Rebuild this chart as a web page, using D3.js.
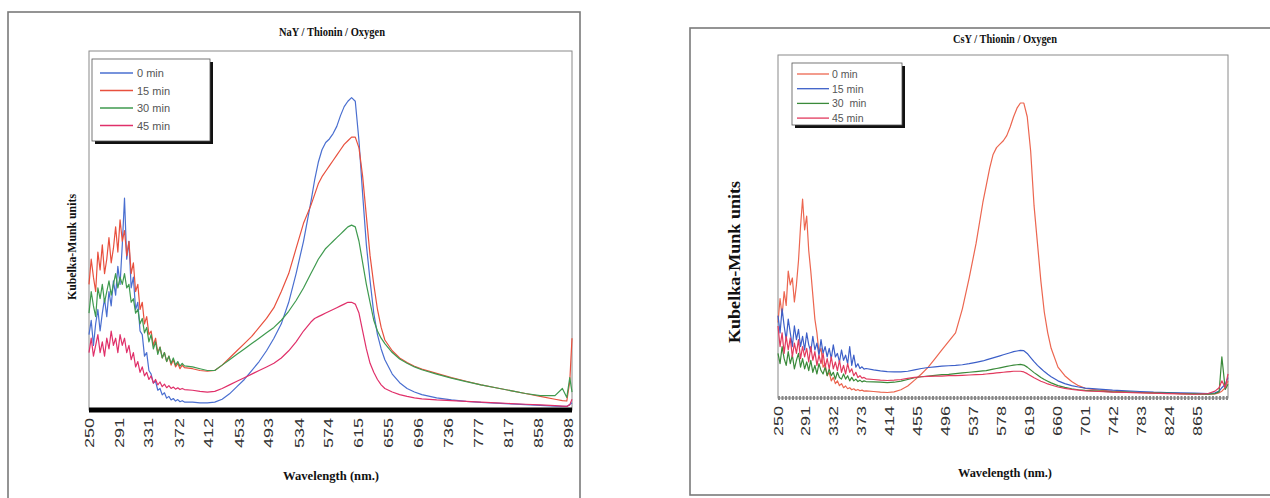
<!DOCTYPE html>
<html>
<head>
<meta charset="utf-8">
<script src="https://cdn.jsdelivr.net/npm/d3@7"></script>
<style>
  body { margin: 0; background: #fff; }
</style>
</head>
<body>
<script>
// wavelength grid (nm) shared by the series of each panel
const waveUV = [250, 253, 256, 259, 262, 265, 268, 271, 274, 277, 280,
    283, 286, 289, 292, 295, 298, 301, 304, 307, 310, 313,
    316, 319, 322, 325, 328, 331, 334, 337, 340, 343, 346,
    349, 352, 355, 358, 361, 364, 367, 370, 373, 376, 379];
const waveMid = [390, 400, 410, 420, 430, 440, 450, 460, 470, 480, 490, 500, 510, 520, 530, 540, 550,
    555, 560, 565, 570, 575, 580, 585, 590, 595, 600, 605, 610, 615, 620, 625, 630, 635, 640, 645, 650];
const waveTailL = [660, 670, 680, 690, 700, 720, 740, 760, 780, 800, 820, 840, 860, 880, 890, 896, 900, 903];
const waveTailR = [660, 670, 680, 690, 700, 720, 740, 760, 780, 800, 820, 840, 860, 880, 890, 896, 900, 905, 909];

const ticksL = [250, 291, 331, 372, 412, 453, 493, 534, 574, 615, 655, 696, 736, 777, 817, 858, 898];
const ticksR = [250, 291, 332, 373, 414, 455, 496, 537, 578, 619, 660, 701, 742, 783, 824, 865];

const namesL = ["0 min", "15 min", "30 min", "45 min"];
const namesR = ["0 min", "15 min", "30  min", "45 min"];

// NaY / Thionin / Oxygen  (Kubelka-Munk, % of plot height)
const naY0 = [21, 25, 18, 24, 28, 22, 27, 31, 26, 33, 29,
    36, 32, 40, 35, 46, 59, 42, 47, 34, 37, 28,
    30, 22, 21, 15, 16, 11, 10, 7.5, 8, 5.5, 6,
    4.2, 4.8, 3.3, 3.8, 2.8, 3.2, 2.5, 2.9, 2.3, 2.6, 2.2,
    2.2, 2.0, 2.0, 2.2, 3, 4.5, 6.5, 8.5, 11, 13.5, 16.5, 20, 24, 30, 38, 47, 58,
    64, 69, 72.5, 74.5, 75.5, 77, 79, 82, 84.5, 86, 87, 86, 75, 60, 46, 36, 27, 21, 17, 14,
    10, 7.6, 6, 5, 4.3, 3.4, 2.8, 2.4, 2.1, 1.9, 1.7, 1.5, 1.3, 1.1, 1.0, 1.0, 1.5, 2];
const naY15 = [35, 42, 37, 33, 44, 39, 46, 38, 42, 48, 41,
    45, 51, 44, 53, 47, 50, 43, 47, 38, 41, 33,
    35, 28, 30, 24, 26, 21, 22, 18, 20, 16, 17.5,
    14.5, 16, 13.5, 15, 12.5, 14, 12, 13, 11.5, 12.5, 11.8,
    11.5, 11, 10.8, 11, 12.5, 14.5, 16.5, 18.5, 20.5, 23, 25.5, 28.5, 33, 38, 45, 52, 57,
    60, 63, 65, 66.5, 68, 69.5, 71, 72.5, 74, 75, 76, 76, 73, 65, 54, 43, 35, 28, 23, 19.5,
    16.5, 14.5, 13.2, 12.2, 11.4, 10.2, 9, 8, 7, 6.2, 5.4, 4.6, 3.8, 3, 2.6, 2.5, 8, 20];
const naY30 = [27, 33, 29, 26, 34, 31, 35, 30, 33, 36, 32,
    35, 38, 34, 37, 35, 38, 34, 35, 30, 31, 27,
    28, 24, 25.5, 21.5, 23, 19, 21, 17, 19, 15.5, 17.5,
    14.5, 16, 13.5, 15, 13, 14.5, 12.5, 13.5, 12.2, 13, 12.3,
    12, 11.5, 11, 11, 12.5, 14, 15.5, 17, 18.5, 20, 21.5, 23, 25, 27.5, 30.5, 34, 38,
    40, 42, 43.5, 45, 46, 47, 48, 49, 50, 51, 51.5, 51, 47, 41, 35, 30, 25, 22, 20, 18.5,
    16, 14.2, 13, 12, 11.2, 10, 8.9, 7.9, 7, 6.2, 5.4, 4.6, 4, 4, 6, 3.5, 9, 5];
const naY45 = [16, 20, 15, 18, 21, 16, 19, 15, 20, 17, 22,
    18, 20, 16, 21, 18, 20, 16, 18, 14, 16, 12,
    13.5, 10.5, 12, 9.5, 10.5, 8.5, 9.5, 7.5, 8.5, 7, 7.8,
    6.5, 7.2, 6.2, 6.8, 6, 6.4, 5.8, 6.2, 5.7, 6, 5.7,
    5.5, 5.2, 5, 5.2, 6, 7, 8, 9, 10, 11, 12, 13, 14.5, 16.5, 19, 22, 24.5,
    25.5, 26, 26.5, 27, 27.5, 28, 28.5, 29, 29.5, 30, 30, 29.5, 27, 22, 17, 13, 10.5, 8.5, 7, 6,
    5, 4.3, 3.8, 3.4, 3.1, 2.8, 2.6, 2.4, 2.2, 2, 1.8, 1.6, 1.4, 1.2, 1.1, 1, 1.5, 3];

// CsY / Thionin / Oxygen
const csY0 = [22, 29, 24, 31, 27, 37, 33, 35, 28, 33, 40,
    50, 58, 49, 53, 43, 37, 30, 23, 19, 13, 14.5,
    9, 10, 6.5, 7.5, 5, 6, 4.2, 5, 3.6, 4.2, 3,
    3.5, 2.7, 3, 2.4, 2.7, 2.2, 2.5, 2.1, 2.3, 2, 2.1,
    1.9, 1.7, 1.6, 1.8, 2.4, 3.5, 5.2, 7, 9, 11.5, 14, 16.5, 19, 26, 35, 45, 57,
    62, 67, 71, 73, 74, 75, 76.5, 79, 82, 84.5, 86, 86, 82, 72, 56, 45, 34, 25, 19, 14.5,
    9, 6.5, 4.8, 3.6, 2.8, 2.3, 2.0, 1.8, 1.6, 1.5, 1.4, 1.3, 1.2, 1.1, 1.2, 1.5, 2, 3, 5];
const csY15 = [24, 19, 26, 21, 17, 23, 19, 15, 21, 17, 20,
    15, 18, 14, 19, 15.5, 13.5, 18, 14, 16, 12.5, 17,
    13, 15, 12, 14.5, 11.5, 15.5, 12, 13, 10.5, 14, 11,
    12.5, 10, 15, 9.5, 12.5, 9, 10, 8.6, 9.1, 8.4, 8.6,
    8.2, 7.9, 7.7, 7.6, 7.6, 7.8, 8.2, 8.6, 8.9, 9.1, 9.3, 9.4, 9.5, 9.7, 10, 10.4, 10.8,
    11.1, 11.4, 11.7, 12, 12.3, 12.6, 12.9, 13.2, 13.5, 13.7, 13.9, 13.8, 13, 11.8, 10.6, 9.5, 8.6, 7.7, 6.9, 6.2,
    5, 4.2, 3.6, 3.2, 2.9, 2.6, 2.3, 2.1, 1.9, 1.7, 1.6, 1.5, 1.4, 1.3, 1.5, 2, 3, 4, 6];
const csY30 = [13, 10, 15, 11.5, 9.5, 13.5, 10, 12.5, 8.5, 11, 13,
    9, 11.5, 8.5, 10.5, 8, 11, 7.5, 9.5, 7, 10, 8,
    7, 9, 6.5, 8.5, 6.5, 7.5, 5.5, 7.5, 6, 5.5, 7,
    5.5, 6.5, 5, 6, 5, 5.5, 4.8, 5.2, 4.7, 5, 4.8,
    4.7, 4.6, 4.5, 4.6, 4.9, 5.4, 5.9, 6.2, 6.4, 6.6, 6.8, 6.9, 7.1, 7.3, 7.5, 7.7, 7.9,
    8, 8.2, 8.4, 8.6, 8.8, 9, 9.2, 9.4, 9.6, 9.7, 9.8, 9.6, 9, 8.2, 7.4, 6.7, 6, 5.4, 4.9, 4.4,
    3.6, 3.1, 2.7, 2.4, 2.2, 2, 1.8, 1.7, 1.6, 1.5, 1.4, 1.3, 1.2, 1.1, 1.3, 1.8, 12, 2.5, 4];
const csY45 = [21, 15, 19, 13, 18, 14, 17.5, 12, 16, 13, 17,
    11.5, 15, 12, 14.5, 10.5, 15, 11, 13.5, 9.5, 12.5, 10,
    13, 9, 11.5, 8.5, 12, 8.5, 10.5, 8, 11, 7.5, 9.5,
    7, 10, 7.5, 8.5, 6.5, 7.5, 6, 6.5, 5.8, 6, 5.6,
    5.4, 5.2, 5.1, 5.2, 5.4, 5.7, 6, 6.2, 6.3, 6.4, 6.4, 6.5, 6.5, 6.6, 6.7, 6.8, 6.9,
    7, 7.1, 7.2, 7.3, 7.4, 7.5, 7.6, 7.7, 7.8, 7.8, 7.8, 7.6, 7.1, 6.5, 5.9, 5.4, 4.9, 4.5, 4.1, 3.8,
    3.2, 2.8, 2.5, 2.3, 2.1, 1.9, 1.7, 1.6, 1.5, 1.4, 1.3, 1.2, 1.1, 1.3, 2, 3, 5, 3, 7];

const W = 1270, H = 498;

const svg = d3.select("body").append("svg")
    .attr("width", W).attr("height", H);
svg.append("rect").attr("width", W).attr("height", H).attr("fill", "#fff");

function stext(g, x, y, str, o) {
    o = o || {};
    let t = g.append("text")
        .attr("transform", "translate(" + x + "," + y + ")" + (o.rot ? " rotate(-90)" : ""))
        .attr("text-anchor", o.anchor || "middle")
        .attr("font-family", o.family || "Liberation Serif")
        .attr("font-weight", o.weight || "bold")
        .attr("font-size", o.size || 12)
        .attr("fill", o.fill || "#111")
        .style("white-space", "pre")
        .text(str);
    if (o.len) t.attr("textLength", o.len).attr("lengthAdjust", "spacingAndGlyphs");
    return t;
}

function drawPanel(p) {
    const g = svg.append("g");

    // outer frame
    g.append("rect")
        .attr("x", p.frame[0]).attr("y", p.frame[1])
        .attr("width", p.frame[2]).attr("height", p.frame[3])
        .attr("fill", "none").attr("stroke", "#7a7a7a").attr("stroke-width", 1.6);

    const x = d3.scaleLinear().domain(p.domain).range([p.plot[0], p.plot[1]]);
    const y = d3.scaleLinear().domain([0, 100]).range([p.plot[3], p.plot[2]]);

    // plot box
    g.append("rect")
        .attr("x", p.plot[0]).attr("y", p.plot[2])
        .attr("width", p.plot[1] - p.plot[0]).attr("height", p.plot[3] - p.plot[2])
        .attr("fill", "none").attr("stroke", "#8a8a8a").attr("stroke-width", 1);

    // spectra
    const line = d3.line()
        .defined(d => d != null)
        .x((d, i) => x(p.wave[i]))
        .y(d => y(d));
    p.series.forEach(s => {
        g.append("path").datum(s.values)
            .attr("d", line)
            .attr("fill", "none")
            .attr("stroke", s.color)
            .attr("stroke-width", 1.2)
            .attr("stroke-linejoin", "round");
    });

    // wavelength axis
    const axis = d3.axisBottom(x).tickValues(p.ticks).tickSize(0).tickPadding(0);
    const ax = g.append("g").attr("transform", "translate(0," + p.plot[3] + ")").call(axis);
    ax.select(".domain").remove();
    ax.append("line")
        .attr("x1", p.plot[0]).attr("x2", p.plot[1])
        .attr("stroke", p.axisColor).attr("stroke-width", p.axisWidth)
        .attr("stroke-dasharray", p.axisDash);
    ax.selectAll(".tick text")
        .attr("y", null).attr("dy", null)
        .attr("transform", "translate(0," + p.labelOffset + ") rotate(-90)")
        .attr("text-anchor", "end")
        .attr("dominant-baseline", "central")
        .attr("font-family", "Liberation Sans")
        .attr("font-size", 12)
        .attr("fill", "#333")
        .attr("textLength", p.labelLen).attr("lengthAdjust", "spacingAndGlyphs");

    // texts
    stext(g, p.title[0], p.title[1], p.titleText, { size: 12, len: p.title[2] });
    stext(g, p.xlab[0], p.xlab[1], "Wavelength (nm.)", { size: 12, len: p.xlab[2] });
    stext(g, p.ylab[0], p.ylab[1], "Kubelka-Munk units", { size: p.ylab[2], rot: true, len: p.ylab[3] })
        .attr("dominant-baseline", "central");

    // legend
    const L = p.legend;
    g.append("rect").attr("x", L.x + 3).attr("y", L.y + 3).attr("width", L.w).attr("height", L.h)
        .attr("fill", "#111");
    g.append("rect").attr("x", L.x).attr("y", L.y).attr("width", L.w).attr("height", L.h)
        .attr("fill", "#fff").attr("stroke", "#555").attr("stroke-width", 0.8);
    p.series.forEach((s, i) => {
        const ry = L.row0 + i * L.step;
        g.append("line").attr("x1", L.l0).attr("x2", L.l1).attr("y1", ry).attr("y2", ry)
            .attr("stroke", s.color).attr("stroke-width", 1.3);
        stext(g, L.tx, ry, s.name, { family: "Liberation Sans", weight: "normal", size: L.fs, anchor: "start", fill: "#555" })
            .attr("dominant-baseline", "central");
    });
}

drawPanel({
    frame: [8, 12, 572, 495],
    plot: [89, 572, 51, 410],
    domain: [250, 903],
    wave: waveUV.concat(waveMid, waveTailL),
    ticks: ticksL,
    labelOffset: 8,
    labelLen: 30,
    axisColor: "#000", axisWidth: 5, axisDash: null,
    titleText: "NaY / Thionin / Oxygen",
    title: [332, 36, 106],
    xlab: [331, 480, 96],
    ylab: [72, 247, 12, 106],
    legend: { x: 92, y: 59, w: 118, h: 82, l0: 100, l1: 133, tx: 137, row0: 73, step: 17.5, fs: 11 },
    series: [
        { name: namesL[0], values: naY0, color: "#4a6fd0" },
        { name: namesL[1], values: naY15, color: "#e8503e" },
        { name: namesL[2], values: naY30, color: "#3f9a4f" },
        { name: namesL[3], values: naY45, color: "#e0306a" }
    ]
});

drawPanel({
    frame: [690, 28, 600, 467],
    plot: [778, 1228, 55, 398],
    domain: [250, 909],
    wave: waveUV.concat(waveMid, waveTailR),
    ticks: ticksR,
    labelOffset: 8,
    labelLen: 30,
    axisColor: "#888", axisWidth: 4, axisDash: "2,1.5",
    titleText: "CsY / Thionin / Oxygen",
    title: [1005, 43, 104],
    xlab: [1005, 477, 94],
    ylab: [734, 262, 16, 162],
    legend: { x: 792, y: 63, w: 110, h: 62, l0: 797, l1: 829, tx: 832, row0: 74, step: 14.7, fs: 10.5 },
    series: [
        { name: namesR[0], values: csY0, color: "#ec6650" },
        { name: namesR[1], values: csY15, color: "#3c5fc8" },
        { name: namesR[2], values: csY30, color: "#3a8a3a" },
        { name: namesR[3], values: csY45, color: "#e23a5e" }
    ]
});
</script>
</body>
</html>
